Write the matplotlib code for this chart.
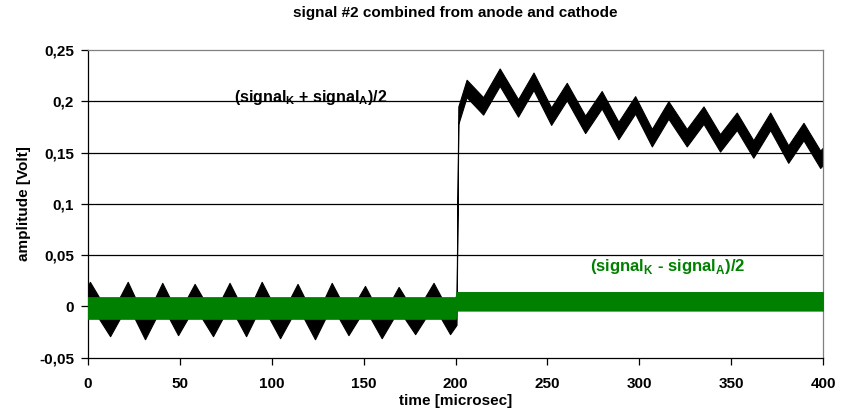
import matplotlib
matplotlib.use('Agg')
import matplotlib.pyplot as plt
import numpy as np

plt.rcParams['font.family'] = ['Liberation Sans', 'DejaVu Sans']
plt.rcParams['font.weight'] = 'bold'
plt.rcParams['mathtext.fontset'] = 'custom'
plt.rcParams['mathtext.rm'] = 'Liberation Sans:bold'
plt.rcParams['mathtext.bf'] = 'Liberation Sans:bold'

# (signal_K + signal_A)/2 : envelope of the band at each peak / trough [microsec, Volt]
t_sum = [0, 1, 12, 21.6, 31, 40.4, 49, 58, 68, 77, 86, 94.5, 104.5, 114, 123.5,
         132.6, 141.7, 150.7, 159.8, 169, 178, 188, 197, 200.5,
         201.5, 206, 215, 224, 234, 242.4, 252, 260.5, 270.5, 279.5, 288.6,
         297.7, 306.8, 315.8, 325.8, 334.9, 343.9, 353, 362, 371.2, 381,
         389.3, 398.4, 400]
sum_hi = [0.020, 0.024, -0.009, 0.024, -0.012, 0.023, -0.008, 0.022, -0.009,
          0.023, -0.009, 0.024, -0.011, 0.022, -0.012, 0.023, -0.008, 0.020,
          -0.011, 0.019, -0.007, 0.023, -0.007, 0.000,
          0.195, 0.221, 0.204, 0.232, 0.202, 0.228, 0.194, 0.218, 0.186,
          0.210, 0.180, 0.205, 0.173, 0.200, 0.173, 0.195, 0.168, 0.189,
          0.162, 0.189, 0.157, 0.179, 0.152, 0.155]
sum_lo = [-0.002, 0.002, -0.029, 0.002, -0.032, 0.001, -0.028, 0.000, -0.029,
          0.001, -0.029, 0.002, -0.031, 0.000, -0.032, 0.001, -0.028, -0.002,
          -0.031, -0.003, -0.027, 0.001, -0.027, -0.018,
          0.178, 0.204, 0.187, 0.215, 0.185, 0.211, 0.177, 0.201, 0.169,
          0.193, 0.163, 0.188, 0.156, 0.183, 0.156, 0.178, 0.151, 0.172,
          0.145, 0.172, 0.140, 0.162, 0.135, 0.138]

# (signal_K - signal_A)/2 : noise band
t_diff = [0, 200, 200.5, 400]
diff_hi = [0.009, 0.009, 0.014, 0.014]
diff_lo = [-0.012, -0.012, -0.004, -0.004]

y_ticks = [-0.05, 0, 0.05, 0.1, 0.15, 0.2, 0.25]
y_labels = ['-0,05', '0', '0,05', '0,1', '0,15', '0,2', '0,25']
x_ticks = [0, 50, 100, 150, 200, 250, 300, 350, 400]

fig = plt.figure(figsize=(8.53, 4.15), dpi=100)
ax = fig.add_axes([0.1032, 0.138, 0.8618, 0.7415])

for y in y_ticks[1:-1]:
    ax.axhline(y, color='black', lw=0.9, zorder=1)

ax.fill_between(t_sum, sum_lo, sum_hi, color='black', lw=0.8, zorder=2)
ax.fill_between(t_diff, diff_lo, diff_hi, color='#008000', lw=0.8, zorder=3)

ax.text(121, 0.2035, '(signal$_\\mathbf{K}$ + signal$_\\mathbf{A}$)/2',
        ha='center', va='center', fontsize=11.5, fontweight='bold', color='black')
ax.text(315.6, 0.0387, '(signal$_\\mathbf{K}$ - signal$_\\mathbf{A}$)/2',
        ha='center', va='center', fontsize=12, fontweight='bold', color='#008000')

ax.set_xlim(0, 400)
ax.set_ylim(-0.05, 0.25)
ax.set_xticks(x_ticks)
ax.set_yticks(y_ticks)
ax.set_yticklabels(y_labels)
ax.tick_params(direction='out', length=5, width=0.9, labelsize=11)
ax.tick_params(axis='x', pad=9)
ax.tick_params(axis='y', pad=5)
for lab in ax.get_xticklabels() + ax.get_yticklabels():
    lab.set_fontweight('bold')

ax.spines['left'].set_color('black')
ax.spines['bottom'].set_color('black')
ax.spines['top'].set_color('#808080')
ax.spines['right'].set_color('#808080')
for s in ax.spines.values():
    s.set_linewidth(0.9)

ax.set_xlabel('time [microsec]', fontsize=11, fontweight='bold', labelpad=2)
ax.set_ylabel('amplitude [Volt]', fontsize=11, fontweight='bold', labelpad=6)
fig.text(0.534, 0.968, 'signal #2 combined from anode and cathode',
         ha='center', va='center', fontsize=11, fontweight='bold')

plt.savefig('out.png', dpi=100)
plt.close()
